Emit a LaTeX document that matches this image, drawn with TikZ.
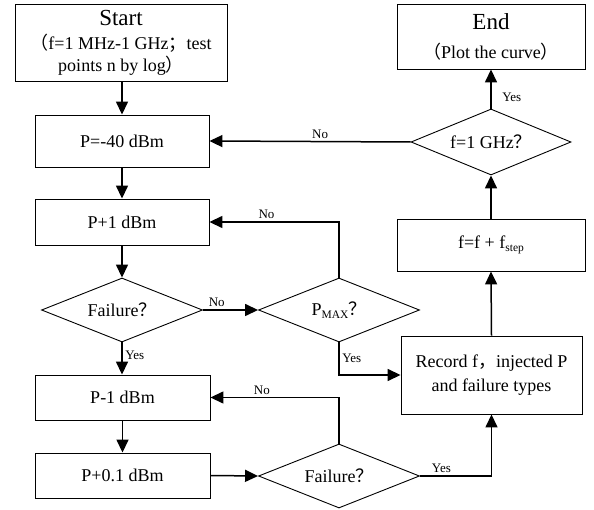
\documentclass[tikz,border=0pt]{standalone}
\usepackage{fontspec}
\setmainfont{Liberation Serif}
\newfontfamily\cjk{Noto Sans CJK SC}
\usetikzlibrary{arrows.meta,shapes.geometric}
\newcommand\fp[1]{{\cjk #1}}
\newcommand\lowsub[1]{\raisebox{-0.3ex}{\fontsize{11.5}{11.5}\selectfont #1}}
\begin{document}
\begin{tikzpicture}[x=1pt,y=-1pt,
  every node/.style={inner sep=0pt},
  box/.style={draw, line width=0.9pt, align=center, font=\fontsize{18}{22}\selectfont},
  dec/.style={draw, diamond, aspect=2.5, line width=0.9pt, minimum width=161pt, minimum height=64pt, font=\fontsize{18}{22}\selectfont},
  arr/.style={line width=1.5pt, -{Triangle[length=13pt,width=12pt]}},
  lbl/.style={font=\fontsize{13}{15}\selectfont, inner sep=2.5pt}]
\useasboundingbox (0,0) rectangle (594,510);
\node[box, minimum width=212pt, minimum height=77pt] (start) at (121,42.5)
  {\fontsize{23}{24}\selectfont Start\\[2pt]
   \fontsize{18}{25}\selectfont \fp{（}f=1 MHz-1 GHz\fp{；}test\\ points n by log\fp{）}};
\node[box, minimum width=174pt, minimum height=52pt] (p40) at (122,141) {P=-40 dBm};
\node[box, minimum width=174pt, minimum height=46pt] (p1) at (122,222) {P+1 dBm};
\node[dec] (fail1) at (122,310) {Failure\fp{？}};
\node[dec] (pmax) at (339,310) {P\lowsub{MAX}\fp{？}};
\node[box, minimum width=175pt, minimum height=45pt] (pm1) at (122.5,397.5) {P-1 dBm};
\node[box, minimum width=175pt, minimum height=45pt] (p01) at (122.5,475.5) {P+0.1 dBm};
\node[dec] (fail2) at (339,476) {Failure\fp{？}};
\node[box, minimum width=181pt, minimum height=78pt] (rec) at (491.5,375)
  {Record f\fp{，}injected P\\[2pt]and failure types};
\node[box, minimum width=188pt, minimum height=52pt] (fstep) at (491,245) {f=f + f\lowsub{step}};
\node[dec, minimum width=160pt, minimum height=66pt] (fghz) at (491,142) {f=1 GHz\fp{？}};
\node[box, minimum width=188pt, minimum height=65pt] (end) at (491,36.5)
  {\fontsize{23}{24}\selectfont End\\[7pt]\fontsize{18}{22}\selectfont \fp{（}Plot the curve\fp{）}};
% connectors
\draw[arr] (start.south -| p40.north) -- (p40.north);
\draw[arr] (p40) -- (p1);
\draw[arr] (p1) -- (fail1);
\draw[arr] (fail1.south) -- node[lbl, right, pos=0.4] {Yes} (pm1.north -| fail1.south);
\draw[arr] (fail1.east) -- node[lbl, above, pos=0.25] {No} (pmax.west);
\draw[arr] (pmax.north) |- node[lbl, above, pos=0.78] {No} (p1.east);
\draw[arr] (pmax.south) |- node[lbl, right, pos=0.25] {Yes} (rec.west);
\draw[arr] (pm1) -- (p01);
\draw[arr] (p01.east) -- (fail2.west);
\draw[arr] (fail2.north) |- node[lbl, above, pos=0.8] {No} (pm1.east);
\draw[arr] (fail2.east) -| node[lbl, above, pos=0.15] {Yes} (rec.south);
\draw[arr] (rec.north) -- (fstep.south);
\draw[arr] (fstep.north) -- (fghz.south);
\draw[arr] (fghz.north) -- node[lbl, right, pos=0.3, xshift=8pt] {Yes} (end.south);
\draw[arr] (fghz.west) -- node[lbl, above, pos=0.45] {No} (p40.east);
\end{tikzpicture}
\end{document}
